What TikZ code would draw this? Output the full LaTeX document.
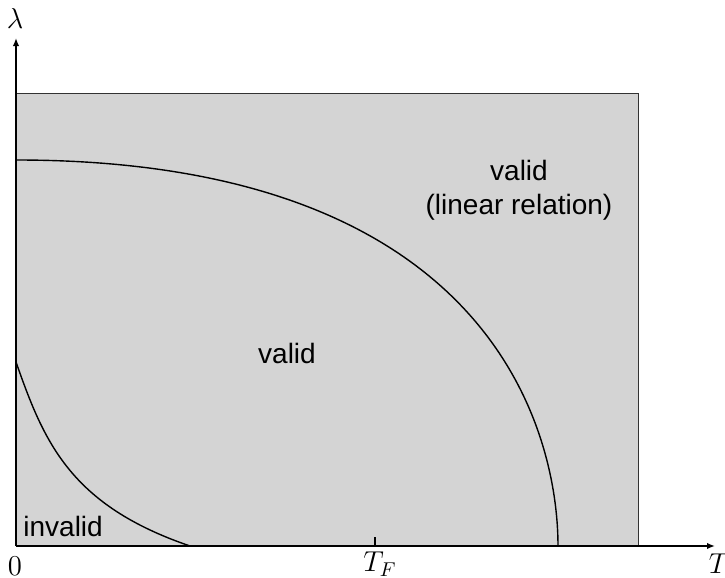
\documentclass[tikz,border=0pt]{standalone}
\usepackage{fontspec}
\setsansfont{Liberation Sans}
\usetikzlibrary{arrows.meta}

\begin{document}
\begin{tikzpicture}[
    x=0.5pt, y=-0.5pt,
    axis/.style={-{Latex[length=4pt,width=3.2pt]}, line width=0.75pt},
    region/.style={draw=black!80, fill=black!17, line width=0.5pt},
    bound/.style={line width=0.7pt},
    lbl/.style={font=\sffamily\fontsize{14}{17}\selectfont, align=center},
    ax/.style={font=\fontsize{14}{17}\selectfont, inner sep=0pt}
]
    \useasboundingbox (0,0) rectangle (725,578);

    \coordinate (O) at (16,546);
    \coordinate (xend) at (715,546);
    \coordinate (yend) at (16,38);
    \coordinate (box) at (638,93);
    \coordinate (tF) at (375,546);

    \draw[region] (O) rectangle (box);

    \draw[bound] (16,160) .. controls (491,160) and (558,431) .. (558,546);
    \draw[bound] (16,362) .. controls (44,442) and (70,505) .. (190,546);

    \draw[axis] (O) -- (xend);
    \draw[axis] (O) -- (yend);
    \draw[line width=0.6pt] (tF) -- ++(0,-9);

    \node[ax] (lam) at (15,18) {$\lambda$};
    \node[ax] (zero) at (15,566) {$0$};
    \node[ax] (T) at (719,564) {$T$};
    \node[ax, anchor=west] (TF) at (363,564) {$T_F$};

    \node[lbl] (valid) at (287,353) {valid};
    \node[lbl] (lin) at (519,190) {valid\\(linear relation)};
    \node[lbl, anchor=base west, inner sep=0pt] (inval) at (23,536) {invalid};
\end{tikzpicture}
\end{document}
